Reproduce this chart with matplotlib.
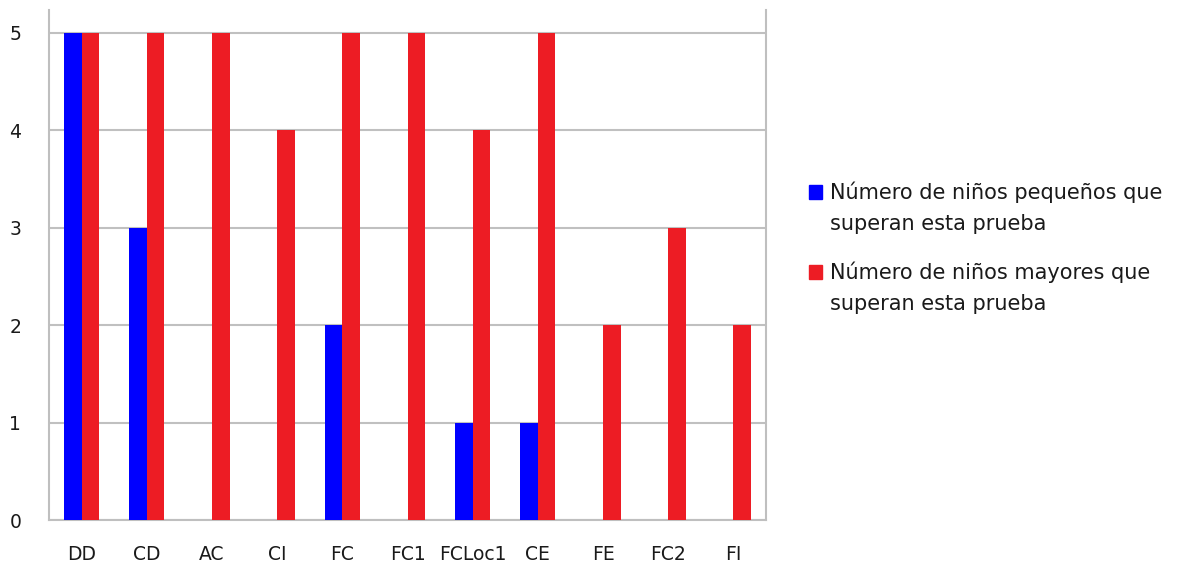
import numpy as np
import matplotlib.pyplot as plt
from matplotlib.patches import Rectangle

# datos
pruebas = ['DD', 'CD', 'AC', 'CI', 'FC', 'FC1', 'FCLoc1', 'CE', 'FE', 'FC2', 'FI']
pequenos = [5, 3, 0, 0, 2, 0, 1, 1, 0, 0, 0]
mayores = [5, 5, 5, 4, 5, 5, 4, 5, 2, 3, 2]
etiquetas = ['Número de niños pequeños que\nsuperan esta prueba',
             'Número de niños mayores que\nsuperan esta prueba']
colores = ['#0000FF', '#ED1C24']

plt.rcParams['font.family'] = ['DejaVu Sans']

W, H = 1187, 570
fig = plt.figure(figsize=(W/100, H/100), dpi=100)
ax = fig.add_axes([49/W, 50/H, 717/W, 510/H])

x = np.arange(len(pruebas))
w = 0.27
ax.bar(x - w/2, pequenos, w, color=colores[0], zorder=3)
ax.bar(x + w/2, mayores, w, color=colores[1], zorder=3)

ax.set_xlim(-0.5, len(pruebas) - 0.5)
ax.set_ylim(0, 5.236)
ax.set_yticks(range(6))
ax.set_xticks(x)
ax.set_xticklabels(pruebas, fontsize=13.5, color='#1a1a1a')
ax.tick_params(axis='both', length=0)
ax.tick_params(axis='x', pad=18)
ax.tick_params(axis='y', pad=20, labelsize=13.5, labelcolor='#1a1a1a')
ax.yaxis.grid(True, color='#c0c0c0', linewidth=1.5, zorder=0)

ax.spines['top'].set_visible(False)
for s in ['left', 'right', 'bottom']:
    ax.spines[s].set_color('#bfbfbf')
    ax.spines[s].set_linewidth(1.5)

# leyenda a mano: el cuadro va a la altura de la primera linea
for i, (lab, col) in enumerate(zip(etiquetas, colores)):
    y0 = 192 + i*80
    fig.add_artist(Rectangle((809/W, 1 - (y0 + 7)/H), 13/W, 14/H,
                             transform=fig.transFigure, color=col))
    for j, linea in enumerate(lab.split('\n')):
        fig.text(830/W, 1 - (y0 + j*32)/H, linea, fontsize=15,
                 color='#1a1a1a', va='center', ha='left')

fig.savefig('out.png', dpi=100)
